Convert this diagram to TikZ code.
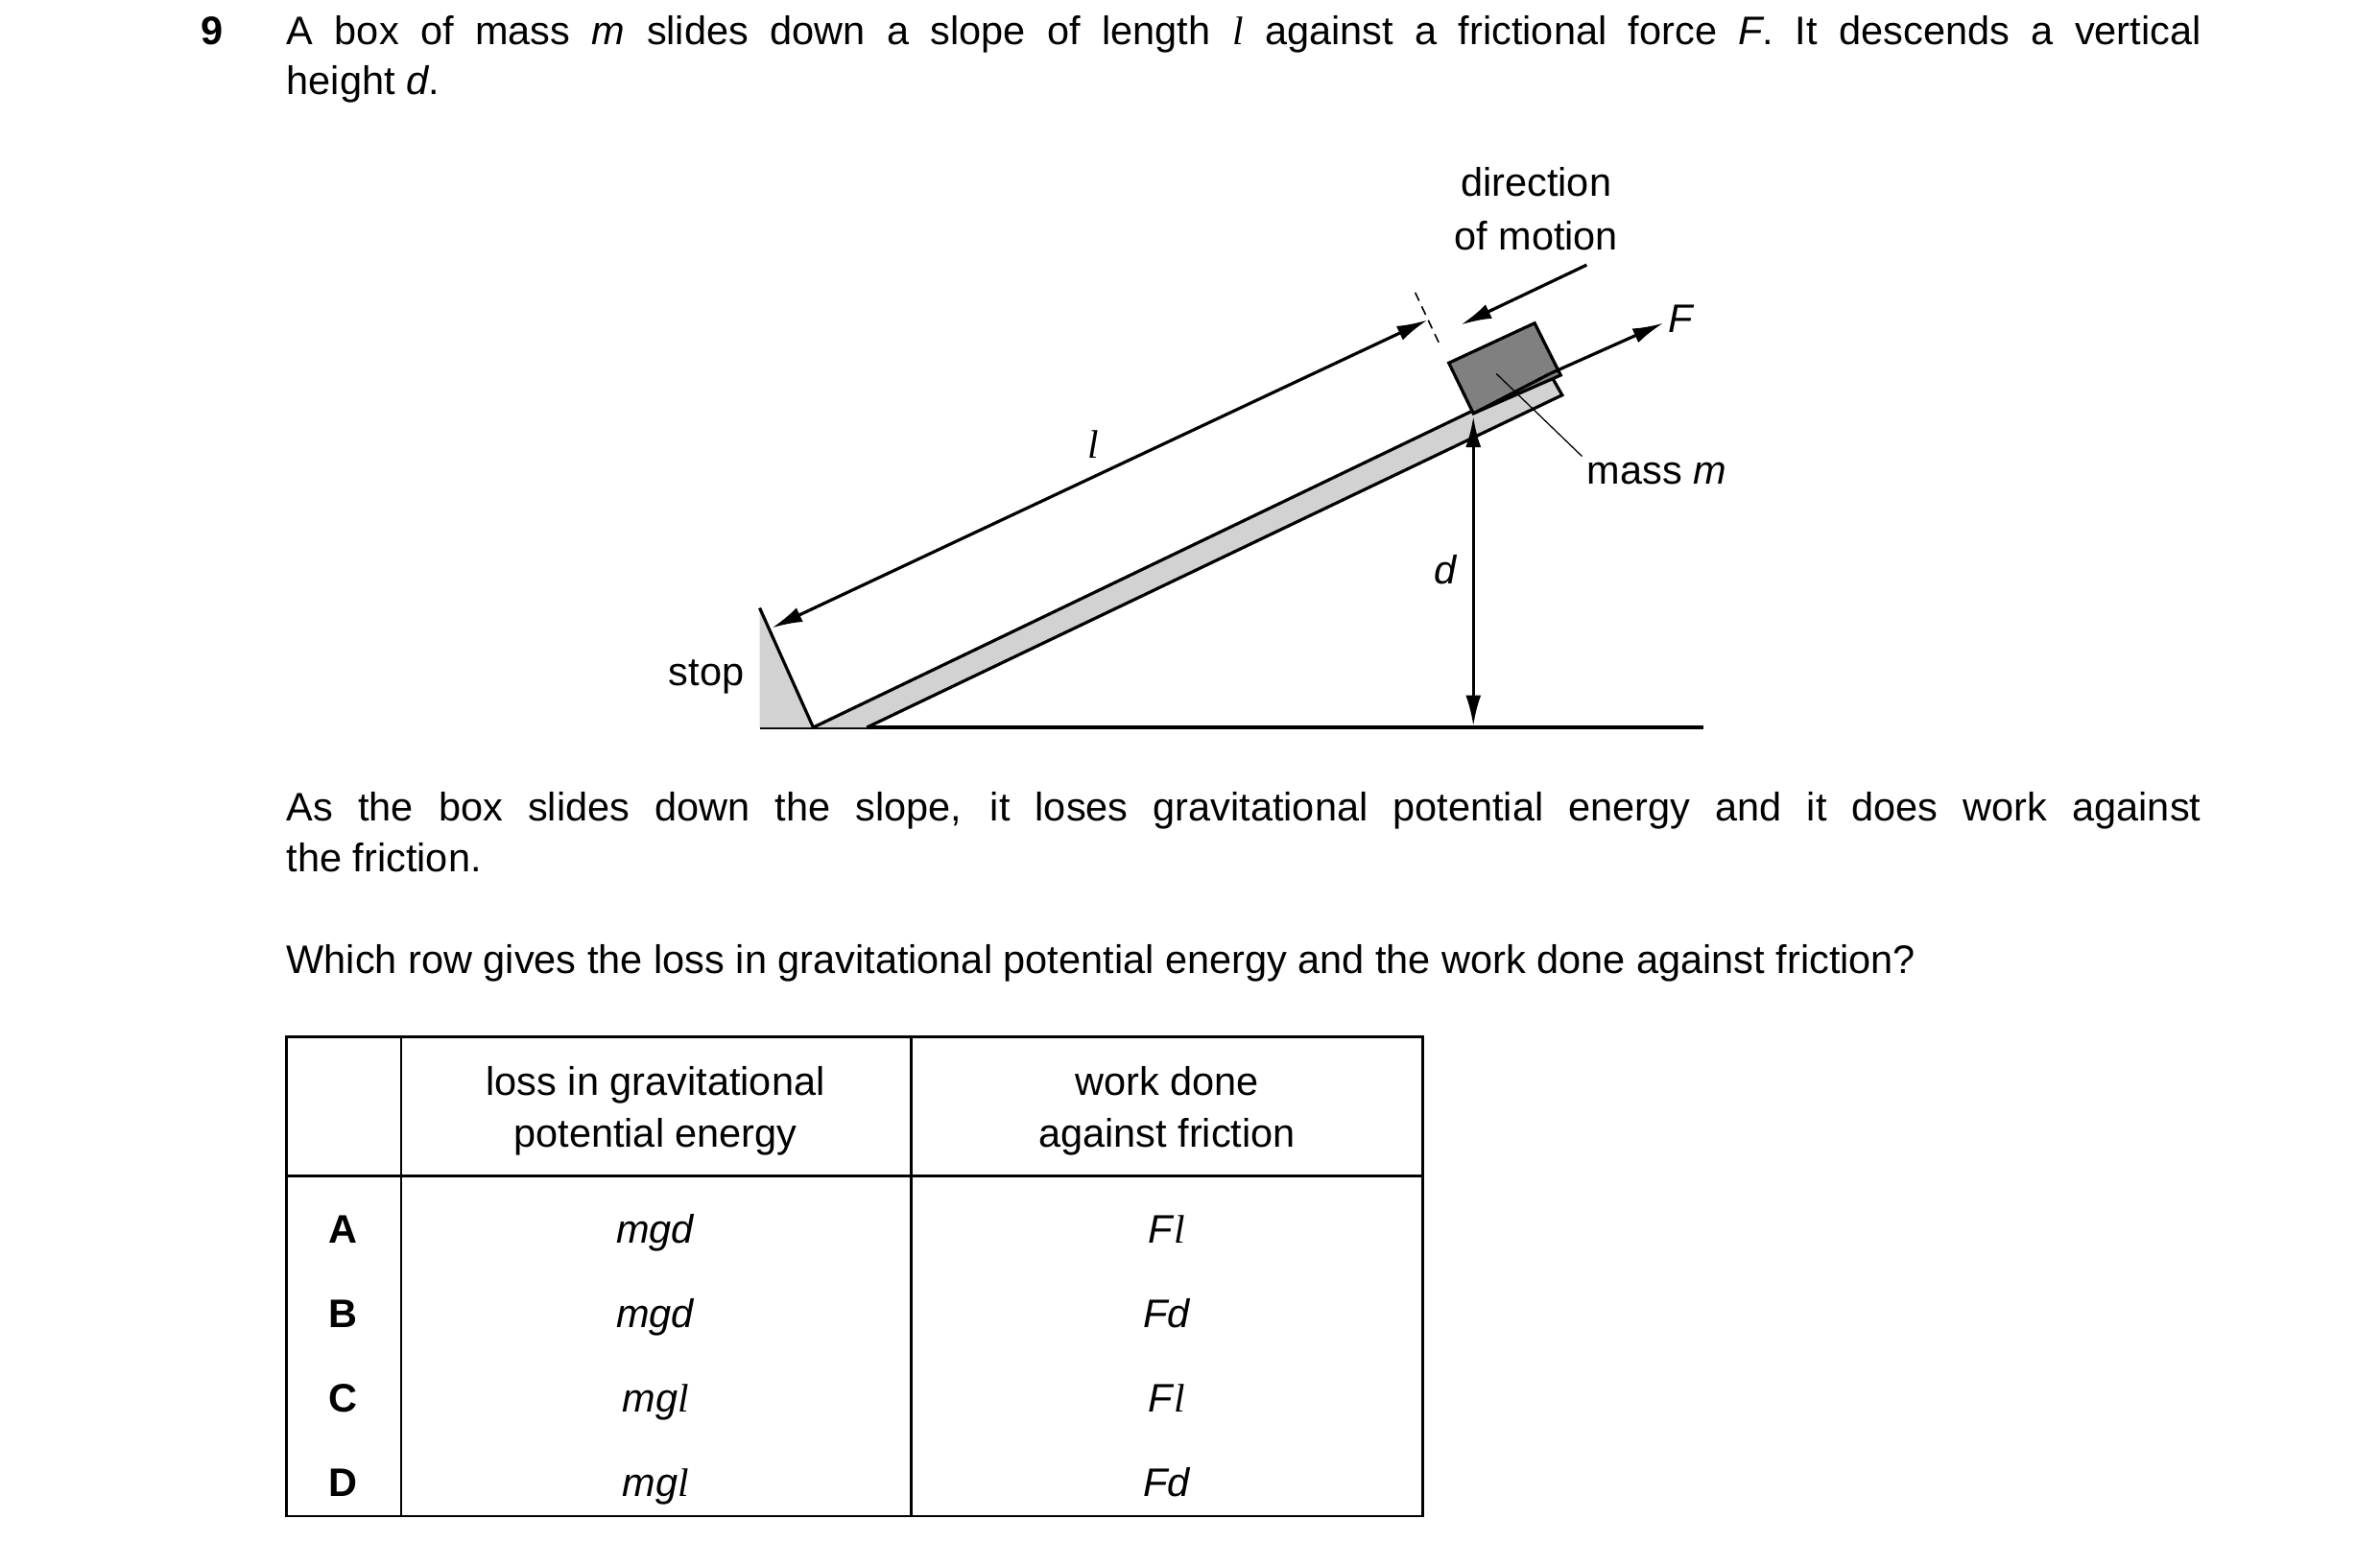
\documentclass[tikz,border=0pt]{standalone}
\usepackage{fontspec}
\setmainfont{Liberation Sans}
\newfontfamily\serifit{Liberation Serif}[ItalicFont=* Italic]
\usetikzlibrary{arrows.meta}
\newcommand{\myl}{{\serifit\itshape l}}
\begin{document}
\begin{tikzpicture}[x=1pt,y=-1pt,
  txt/.style={inner sep=0pt,font=\fontsize{26}{33}\selectfont},
  arr/.style={line width=2pt,-{Latex[length=20pt,width=10pt]}},
  darr/.style={line width=2pt,{Latex[length=20pt,width=10pt]}-{Latex[length=20pt,width=10pt]}}]
\useasboundingbox[fill=white] (0,0) rectangle (1554,1007);
% question text
\node[txt,anchor=base west,font=\fontsize{26}{33}\selectfont\bfseries] (q) at (131,29) {9};
\node[txt,anchor=base west] (t1) at (187,29) {\makebox[1250pt][s]{A box of mass \textit{m} slides down a slope of length \myl\ against a frictional force \textit{F}. It descends a vertical}};
\node[txt,anchor=base west] (t2) at (187,62) {height \textit{d}.};
% ground
\draw[line width=2.5pt] (496,475) coordinate (g1) -- (1112,475) coordinate (g2);
% stop
\fill[gray!35] (496,397) -- (496,475) -- (531,475) -- cycle;
\draw[line width=2pt] (496,397) coordinate (s1) -- (531,475) coordinate (s2);
% slope slab
\coordinate (A) at (531,475);
\coordinate (B) at (566,475);
\coordinate (T) at (1012,244);
\coordinate (U) at (1020,258);
\fill[gray!35] (A) -- (T) -- (U) -- (B) -- cycle;
\draw[line width=2pt] (A) -- (T) -- (U) -- (B);
% box
\draw[line width=2pt,fill=black!50] (962,270) coordinate (b1) -- (946,237) -- (1002,211) -- (1019,245) -- cycle;
\draw[line width=2pt] (b1) -- (T);
% F arrow
\draw[arr] (T) -- (1086,211) coordinate (Fe);
\node[txt,anchor=base west] (F) at (1089,217) {\textit{F}};
% dashed
\draw[dash pattern=on 6pt off 4pt,line width=1pt] (924,191) coordinate (d1) -- (941,227) coordinate (d2);
% l arrow
\draw[darr] (504,410) coordinate (l1) -- (932,209) coordinate (l2);
\node[txt,anchor=base] (ll) at (714,299) {\myl};
% direction of motion
\draw[arr] (1036,173) coordinate (m1) -- (954,212) coordinate (m2);
\node[txt,anchor=base] (dm1) at (1003,128) {direction};
\node[txt,anchor=base] (dm2) at (1003,163) {of motion};
% d arrow
\draw[darr] (962,272) coordinate (h1) -- (962,474) coordinate (h2);
\node[txt,anchor=base] (dl) at (944,381) {\textit{d}};
% mass leader
\draw[line width=0.8pt] (977,244) coordinate (ml1) -- (1033,298) coordinate (ml2);
\node[txt,anchor=base west] (mm) at (1036,316) {mass \textit{m}};
\node[txt,anchor=base east] (stop) at (486,448) {stop};
% text
\node[txt,anchor=base west] (t3) at (187,536) {\makebox[1250pt][s]{As the box slides down the slope, it loses gravitational potential energy and it does work against}};
\node[txt,anchor=base west] (t4) at (187,569) {the friction.};
\node[txt,anchor=base west] (t5) at (187,636) {Which row gives the loss in gravitational potential energy and the work done against friction?};
% table
\draw[line width=1.5pt] (187,677) rectangle (929,990);
\draw[line width=1.5pt] (262,677) -- (262,990) (595,677) -- (595,990) (187,768) -- (929,768);
\node[txt,anchor=base] at (428,715) {loss in gravitational};
\node[txt,anchor=base] at (428,749) {potential energy};
\node[txt,anchor=base] at (762,715) {work done};
\node[txt,anchor=base] at (762,749) {against friction};
\foreach \L/\y/\a/\b in {A/812/\textit{mgd}/\textit{F}\myl, B/867/\textit{mgd}/\textit{Fd}, C/922/\textit{mg}\myl/\textit{F}\myl, D/977/\textit{mg}\myl/\textit{Fd}}{
  \node[txt,anchor=base,font=\fontsize{26}{33}\selectfont\bfseries] at (224,\y) {\L};
  \node[txt,anchor=base] at (428,\y) {\a};
  \node[txt,anchor=base] at (762,\y) {\b};
}
\end{tikzpicture}
\end{document}
